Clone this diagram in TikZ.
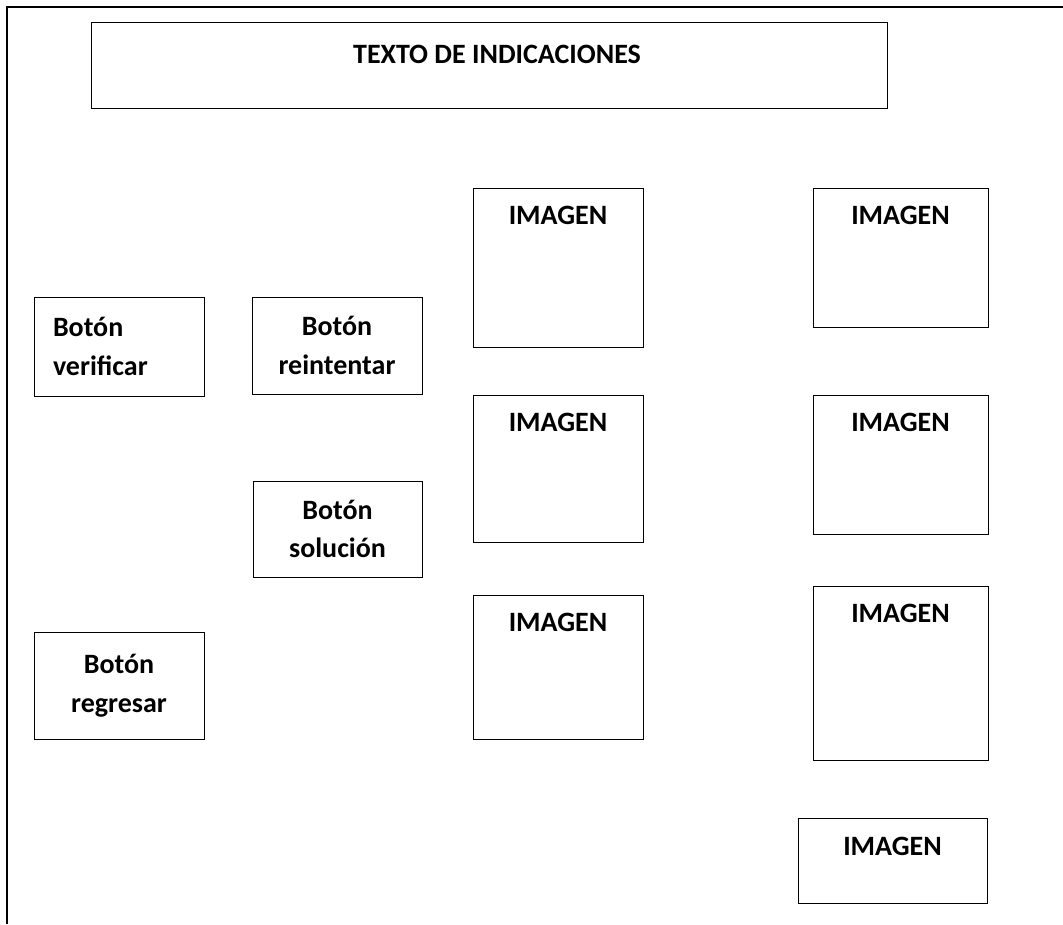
\documentclass[tikz,border=0pt]{standalone}
\usepackage{fontspec}
\setmainfont{Carlito}
\tikzset{every picture/.style={line width=0.75pt}}
\tikzset{
  caja/.style={draw, inner sep=0pt, align=center, font=\bfseries\fontsize{21}{29}\selectfont},
  texto/.style={inner sep=0pt, anchor=base, font=\bfseries\fontsize{21}{29}\selectfont},
}
\begin{document}
\begin{tikzpicture}[x=0.75pt,y=0.75pt,yscale=-1,xscale=1]
\useasboundingbox (0,0) rectangle (1063,924);

% Frame
\coordinate (marco-r) at (1063,7);
\coordinate (marco-o) at (7,7);
\coordinate (marco-b) at (7,924);
\draw [line width=1.5pt] (marco-r) -- (marco-o) -- (marco-b);

% Text Node
\node [caja, minimum width=597pt, minimum height=63.75pt] (titulo) at (489,65.5) {};
\node [texto] (t-titulo) at ([xshift=6pt,yshift=30.75pt]titulo.north) {TEXTO DE INDICACIONES};

% Text Node
\node [caja, align=left, text width=99pt, minimum width=127.5pt, minimum height=74.25pt] (verificar) at (119,346.5) {Botón\\verificar};
% Text Node
\node [caja, minimum width=127.5pt, minimum height=72.75pt] (reintentar) at (337,345.5) {Botón\\reintentar};
% Text Node
\node [caja, minimum width=126.75pt, minimum height=72pt] (solucion) at (337.5,529) {Botón\\solución};
% Text Node
\node [caja, minimum width=127.5pt, minimum height=80.25pt] (regresar) at (119,685.5) {Botón\\regresar};

% Text Node
\node [caja, minimum width=127.5pt, minimum height=119.25pt] (img1) at (558,267.5) {};
\node [texto] (t-img1) at ([yshift=27.75pt]img1.north) {IMAGEN};
% Text Node
\node [caja, minimum width=127.5pt, minimum height=110.25pt] (img2) at (558,468.5) {};
\node [texto] (t-img2) at ([yshift=27.75pt]img2.north) {IMAGEN};
% Text Node
\node [caja, minimum width=127.5pt, minimum height=108pt] (img3) at (558,667) {};
\node [texto] (t-img3) at ([yshift=27.75pt]img3.north) {IMAGEN};
% Text Node
\node [caja, minimum width=131.25pt, minimum height=104.25pt] (img4) at (900.5,257.5) {};
\node [texto] (t-img4) at ([yshift=27.75pt]img4.north) {IMAGEN};
% Text Node
\node [caja, minimum width=131.25pt, minimum height=104.25pt] (img5) at (900.5,464.5) {};
\node [texto] (t-img5) at ([yshift=27.75pt]img5.north) {IMAGEN};
% Text Node
\node [caja, minimum width=131.25pt, minimum height=130.5pt] (img6) at (900.5,673) {};
\node [texto] (t-img6) at ([yshift=27.75pt]img6.north) {IMAGEN};
% Text Node
\node [caja, minimum width=141.75pt, minimum height=63.75pt] (img7) at (892.5,860.5) {};
\node [texto] (t-img7) at ([yshift=28.5pt]img7.north) {IMAGEN};

\end{tikzpicture}
\end{document}
